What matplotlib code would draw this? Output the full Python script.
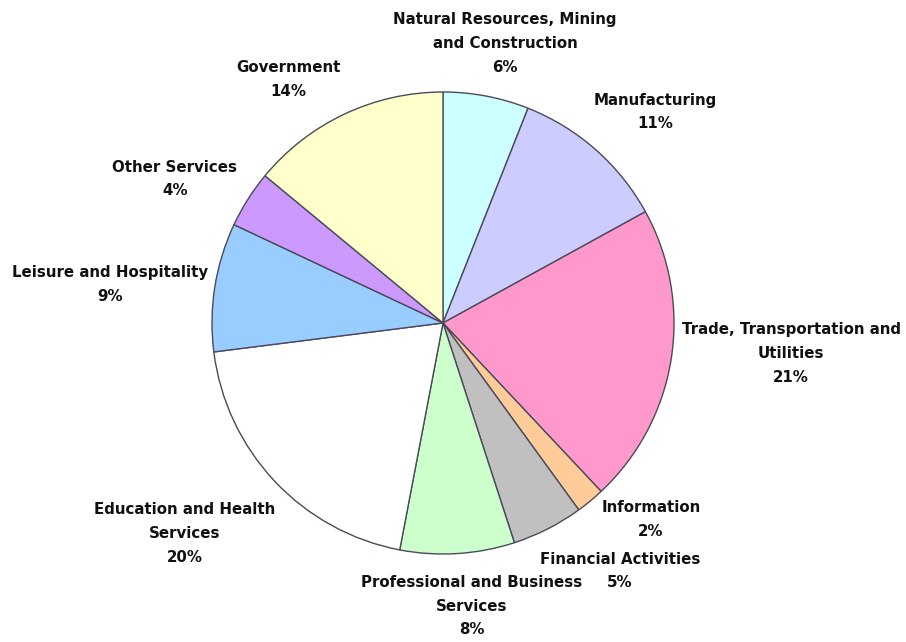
import numpy as np
import matplotlib
matplotlib.use("Agg")
import matplotlib.pyplot as plt

# employment share by sector
sectors = ['Natural Resources, Mining\nand Construction', 'Manufacturing',
           'Trade, Transportation and\nUtilities', 'Information',
           'Financial Activities', 'Professional and Business\nServices',
           'Education and Health\nServices', 'Leisure and Hospitality',
           'Other Services', 'Government']
shares = [6, 11, 21, 2, 5, 8, 20, 9, 4, 14]
colors = ['#ccffff', '#ccccff', '#ff99cc', '#ffcc99', '#c0c0c0',
          '#ccffcc', '#ffffff', '#99ccff', '#cc99ff', '#ffffcc']

# centre x and first-line y of each label (pixels from top-left)
label_pos = [(505, 20), (655, 100), (791, 330), (651, 508), (620, 559),
             (472, 583), (185, 510), (110, 273), (175, 167), (288, 68)]
step = 23.5  # line step in pixels

W, H = 906, 642
fig = plt.figure(figsize=(W / 100, H / 100), dpi=100)
ax = fig.add_axes([0, 0, 1, 1])

ax.pie(shares, colors=colors, startangle=90, counterclock=False,
       center=(443, H - 323), radius=231,
       wedgeprops=dict(edgecolor='#4a4a5a', linewidth=1.0))

# pie() resets the limits, so set them afterwards
ax.set_xlim(0, W)
ax.set_ylim(0, H)
ax.set_aspect('equal')
ax.axis('off')

font = dict(fontsize=10.8, fontweight='bold', color='#111111', ha='center', va='center')
for name, v, (x, y) in zip(sectors, shares, label_pos):
    n = name.count('\n') + 1
    ax.text(x, H - (y + (n - 1) * step / 2), name, linespacing=1.72, **font)
    ax.text(x, H - (y + n * step), '%d%%' % v, **font)

fig.savefig('out.png', dpi=100)
